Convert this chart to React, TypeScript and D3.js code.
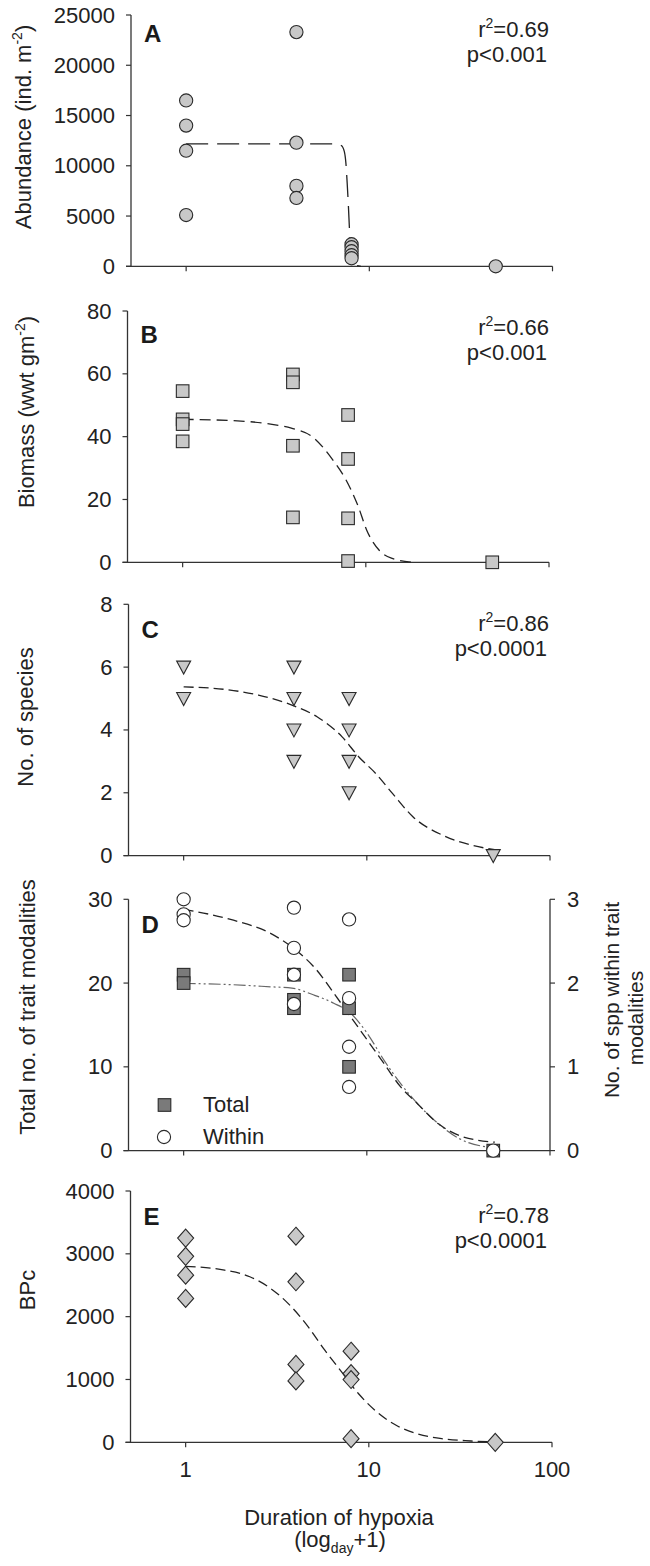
import React from 'react';
import * as d3 from 'd3';

// ---------- DATA ----------
const xTicks = [1, 10, 100];

const abundanceTicks = [0, 5000, 10000, 15000, 20000, 25000];
const abundancePts: [number, number][] = [
  [1, 16500], [1, 14000], [1, 11500], [1, 5100],
  [4, 23300], [4, 12300], [4, 8000], [4, 6800],
  [8, 2200], [8, 1900], [8, 1500], [8, 1100], [8, 800],
  [49, 0],
];
const abundanceFit: [number, number][] = [
  [1, 12185], [6.57, 12185], [7.03, 12020], [7.3, 11430], [7.45, 10265],
  [7.57, 8280], [7.69, 5960], [7.81, 3310], [7.98, 1325], [8.3, 165], [9, 0],
];

const biomassTicks = [0, 20, 40, 60, 80];
const biomassPts: [number, number][] = [
  [1, 54.5], [1, 45.5], [1, 44], [1, 38.5],
  [4, 59.8], [4, 57.3], [4, 37.1], [4, 14.3],
  [8, 46.9], [8, 32.9], [8, 14], [8, 0.4],
  [49, 0],
];
const biomassFit: [number, number][] = [
  [1, 45.5], [1.88, 45.1], [3.02, 44.0], [3.92, 42.7], [5.1, 40.0], [6.6, 32.6],
  [7.8, 26.2], [9.1, 17.7], [10.1, 10.3], [11.8, 3.9], [13.8, 1.3], [18, 0],
];

const speciesTicks = [0, 2, 4, 6, 8];
const speciesPts: [number, number][] = [
  [1, 6], [1, 5],
  [4, 6], [4, 5], [4, 4], [4, 3],
  [8, 5], [8, 4], [8, 3], [8, 2],
  [49, 0],
];
const speciesFit: [number, number][] = [
  [1, 5.37], [1.68, 5.29], [2.56, 5.11], [3.9, 4.79], [5.35, 4.42], [7.33, 3.78],
  [9.05, 3.14], [11.2, 2.61], [13.8, 1.98], [17.9, 1.23], [25.9, 0.65], [37.4, 0.33], [50, 0.19],
];

const traitTotalTicks = [0, 10, 20, 30];
const traitWithinTicks = [0, 1, 2, 3];
const traitTotalPts: [number, number][] = [
  [1, 21], [1, 20],
  [4, 21], [4, 18], [4, 17],
  [8, 21], [8, 17], [8, 10],
  [49, 0],
];
const traitWithinPts: [number, number][] = [
  [1, 3.0], [1, 2.82], [1, 2.75],
  [4, 2.9], [4, 2.42], [4, 2.1], [4, 1.75],
  [8, 2.76], [8, 1.82], [8, 1.24], [8, 0.76],
  [49, 0],
];
const traitTotalFit: [number, number][] = [
  [1, 19.96], [1.87, 19.8], [3.0, 19.55], [3.9, 19.4], [5.1, 18.6], [6.6, 17.6],
  [8.15, 16.4], [10.05, 14.0], [12.4, 10.8], [15.3, 8.0], [18.9, 5.6], [24.6, 3.2], [32, 1.43], [50, 0.3],
];
const traitWithinFit: [number, number][] = [
  [1, 2.88], [1.87, 2.75], [3.0, 2.59], [3.9, 2.43], [5.35, 2.15], [6.6, 1.88],
  [8.15, 1.6], [10.05, 1.32], [12.4, 1.04], [15.3, 0.76], [18.9, 0.56], [24.6, 0.32], [32, 0.18], [50, 0.1],
];

const bpcTicks = [0, 1000, 2000, 3000, 4000];
const bpcPts: [number, number][] = [
  [1, 3250], [1, 2960], [1, 2660], [1, 2290],
  [4, 3280], [4, 2555], [4, 1240], [4, 977],
  [8, 1450], [8, 1094], [8, 999], [8, 58],
  [49, 0],
];
const bpcFit: [number, number][] = [
  [1, 2800], [1.63, 2741], [2.24, 2635], [2.91, 2449], [3.78, 2157], [4.67, 1838],
  [5.75, 1466], [7.1, 1121], [8.77, 776], [10.8, 510], [14.1, 271], [18.3, 138],
  [25, 58], [36.2, 21], [48.4, 5],
];

const stats = [
  ['0.69', 'p<0.001'],
  ['0.66', 'p<0.001'],
  ['0.86', 'p<0.0001'],
  ['', ''],
  ['0.78', 'p<0.0001'],
];

// ---------- STYLE / LAYOUT ----------
const FONT = '"Liberation Sans", Arial, Helvetica, sans-serif';
const TXT = '#222';
const AX = '#333';
const FILL = '#c8c8c8';
const DARK = '#7a7a7a';
const PLOT_W = 421.5;
const PLOT_H = 251.3;

type Shape = 'circle' | 'square' | 'tri' | 'diamond';

function marker(shape: Shape, cx: number, cy: number, fill: string, key: string) {
  const common = { fill, stroke: '#2a2a2a', strokeWidth: 1.1 };
  if (shape === 'circle') return <circle key={key} cx={cx} cy={cy} r={6.6} {...common} />;
  if (shape === 'square') return <rect key={key} x={cx - 6.3} y={cy - 6.3} width={12.6} height={12.6} {...common} />;
  if (shape === 'tri')
    return <path key={key} d={`M${cx - 7},${cy - 6}L${cx + 7},${cy - 6}L${cx},${cy + 7}Z`} {...common} />;
  return <path key={key} d={`M${cx},${cy - 9}L${cx + 8},${cy}L${cx},${cy + 9}L${cx - 8},${cy}Z`} {...common} />;
}

interface PanelProps {
  left: number;
  top: number;
  letter: string;
  ticks: number[];
  statIdx: number;
  letterDy: number;
  statDy: number;
  showX?: boolean;
  children: (x: d3.ScaleLogarithmic<number, number>, y: d3.ScaleLinear<number, number>) => React.ReactNode;
  rightTicks?: number[];
}

function Panel({ left, top, letter, ticks, statIdx, letterDy, statDy, showX, children, rightTicks }: PanelProps) {
  const x = d3.scaleLog().domain([0.5, 100]).range([left, left + PLOT_W]);
  const y = d3.scaleLinear().domain([ticks[0], ticks[ticks.length - 1]]).range([top + PLOT_H, top]);
  const bottom = top + PLOT_H;
  const right = left + PLOT_W;
  const [r2, p] = stats[statIdx];
  const yr = rightTicks
    ? d3.scaleLinear().domain([rightTicks[0], rightTicks[rightTicks.length - 1]]).range([bottom, top])
    : null;
  return (
    <g>
      <line x1={left} x2={left} y1={top} y2={bottom} stroke={AX} strokeWidth={1.3} />
      <line x1={left - 5} x2={right} y1={bottom} y2={bottom} stroke={AX} strokeWidth={1.3} />
      {ticks.map((t) => (
        <g key={'yt' + t}>
          <line x1={left - 5} x2={left} y1={y(t)} y2={y(t)} stroke={AX} strokeWidth={1.2} />
          <text x={left - 16} y={y(t) + 7.5} textAnchor="end" fontSize={22} fill={TXT}>
            {t}
          </text>
        </g>
      ))}
      {xTicks.map((t) => (
        <g key={'xt' + t}>
          <line x1={x(t)} x2={x(t)} y1={bottom} y2={bottom + 5} stroke={AX} strokeWidth={1.2} />
          {showX && (
            <text x={x(t)} y={bottom + 35} textAnchor="middle" fontSize={22} fill={TXT}>
              {t}
            </text>
          )}
        </g>
      ))}
      {yr && (
        <g>
          <line x1={right} x2={right} y1={top} y2={bottom} stroke={AX} strokeWidth={1.3} />
          {rightTicks!.map((t) => (
            <g key={'rt' + t}>
              <line x1={right} x2={right + 5} y1={yr(t)} y2={yr(t)} stroke={AX} strokeWidth={1.2} />
              <text x={right + 17} y={yr(t) + 7.5} textAnchor="start" fontSize={22} fill={TXT}>
                {t}
              </text>
            </g>
          ))}
        </g>
      )}
      <text x={left + 13} y={top + letterDy} fontSize={24} fontWeight="bold" fill="#1a1a1a">
        {letter}
      </text>
      {r2 && (
        <g fontSize={22} fill={TXT} textAnchor="end">
          <text x={549} y={top + statDy}>
            r<tspan fontSize={14} dy={-9}>2</tspan>
            <tspan dy={9}>={r2}</tspan>
          </text>
          <text x={547} y={top + statDy + 24.5}>{p}</text>
        </g>
      )}
      {children(x, y)}
    </g>
  );
}

function fitPath(
  pts: [number, number][],
  x: d3.ScaleLogarithmic<number, number>,
  y: (v: number) => number
) {
  return d3
    .line<[number, number]>()
    .x((d) => x(d[0]))
    .y((d) => y(d[1]))
    .curve(d3.curveMonotoneX)(pts) as string;
}

function YTitle({ x, y, size = 22, children }: { x: number; y: number; size?: number; children: React.ReactNode }) {
  return (
    <text transform={`translate(${x},${y}) rotate(-90)`} textAnchor="middle" fontSize={size} fill={TXT}>
      {children}
    </text>
  );
}

export default function App() {
  return (
    <svg
      width={650}
      height={1566}
      style={{ position: 'absolute', left: 0, top: 0, background: '#fff' }}
      fontFamily={FONT}
    >
      <rect width={650} height={1566} fill="#fff" />

      {/* A */}
      <Panel left={131} top={15} letter="A" ticks={abundanceTicks} statIdx={0} letterDy={27} statDy={22}>
        {(x, y) => (
          <g>
            <path d={fitPath(abundanceFit, x, y)} fill="none" stroke="#222" strokeWidth={1.3} strokeDasharray="22,9" />
            {abundancePts.map((d, i) => marker('circle', x(d[0]), y(d[1]), FILL, 'a' + i))}
          </g>
        )}
      </Panel>
      <YTitle x={31} y={127}>
        Abundance (ind. m<tspan fontSize={14} dy={-9}>-2</tspan>
        <tspan dy={9}>)</tspan>
      </YTitle>

      {/* B */}
      <Panel left={127.5} top={311} letter="B" ticks={biomassTicks} statIdx={1} letterDy={32} statDy={24}>
        {(x, y) => (
          <g>
            <path d={fitPath(biomassFit, x, y)} fill="none" stroke="#222" strokeWidth={1.3} strokeDasharray="11,6" />
            {biomassPts.map((d, i) => marker('square', x(d[0]), y(d[1]), FILL, 'b' + i))}
          </g>
        )}
      </Panel>
      <YTitle x={34} y={412}>
        Biomass (wwt gm<tspan fontSize={14} dy={-9}>-2</tspan>
        <tspan dy={9}>)</tspan>
      </YTitle>

      {/* C */}
      <Panel left={128.5} top={604.3} letter="C" ticks={speciesTicks} statIdx={2} letterDy={34} statDy={27}>
        {(x, y) => (
          <g>
            <path d={fitPath(speciesFit, x, y)} fill="none" stroke="#222" strokeWidth={1.3} strokeDasharray="10,5" />
            {speciesPts.map((d, i) => marker('tri', x(d[0]), y(d[1]), FILL, 'c' + i))}
          </g>
        )}
      </Panel>
      <YTitle x={33} y={717}>No. of species</YTitle>

      {/* D */}
      <Panel
        left={128.5}
        top={899.3}
        letter="D"
        ticks={traitTotalTicks}
        statIdx={3}
        letterDy={34}
        statDy={0}
        rightTicks={traitWithinTicks}
      >
        {(x, y) => {
          const yr = d3.scaleLinear().domain([0, 3]).range([y(0), y(30)]);
          return (
            <g>
              <path
                d={fitPath(traitTotalFit, x, y)}
                fill="none"
                stroke="#666"
                strokeWidth={1.2}
                strokeDasharray="12,3,2,3,2,3"
              />
              <path d={fitPath(traitWithinFit, x, yr)} fill="none" stroke="#222" strokeWidth={1.3} strokeDasharray="10,5" />
              {traitTotalPts.map((d, i) => marker('square', x(d[0]), y(d[1]), DARK, 'dt' + i))}
              {traitWithinPts.map((d, i) => marker('circle', x(d[0]), yr(d[1]), '#fff', 'dw' + i))}
              {marker('square', 164.5, 1105, DARK, 'legT')}
              {marker('circle', 164, 1137, '#fff', 'legW')}
              <text x={203} y={1112} fontSize={22} fill={TXT}>Total</text>
              <text x={203} y={1144} fontSize={22} fill={TXT}>Within</text>
            </g>
          );
        }}
      </Panel>
      <YTitle x={35} y={1007}>Total no. of trait modalities</YTitle>
      <YTitle x={619} y={1000} size={21}>No. of spp within trait</YTitle>
      <YTitle x={643} y={1018} size={21}>modalities</YTitle>

      {/* E */}
      <Panel left={130.5} top={1191} letter="E" ticks={bpcTicks} statIdx={4} letterDy={34} statDy={32} showX>
        {(x, y) => (
          <g>
            <path d={fitPath(bpcFit, x, y)} fill="none" stroke="#222" strokeWidth={1.3} strokeDasharray="10,5" />
            {bpcPts.map((d, i) => marker('diamond', x(d[0]), y(d[1]), FILL, 'e' + i))}
          </g>
        )}
      </Panel>
      <YTitle x={35} y={1290}>BPc</YTitle>

      <text x={339} y={1525} textAnchor="middle" fontSize={22} fill={TXT}>
        Duration of hypoxia
      </text>
      <text x={340} y={1547} textAnchor="middle" fontSize={22} fill={TXT}>
        (log<tspan fontSize={14} dy={6}>day</tspan>
        <tspan dy={-6}>+1)</tspan>
      </text>
    </svg>
  );
}
